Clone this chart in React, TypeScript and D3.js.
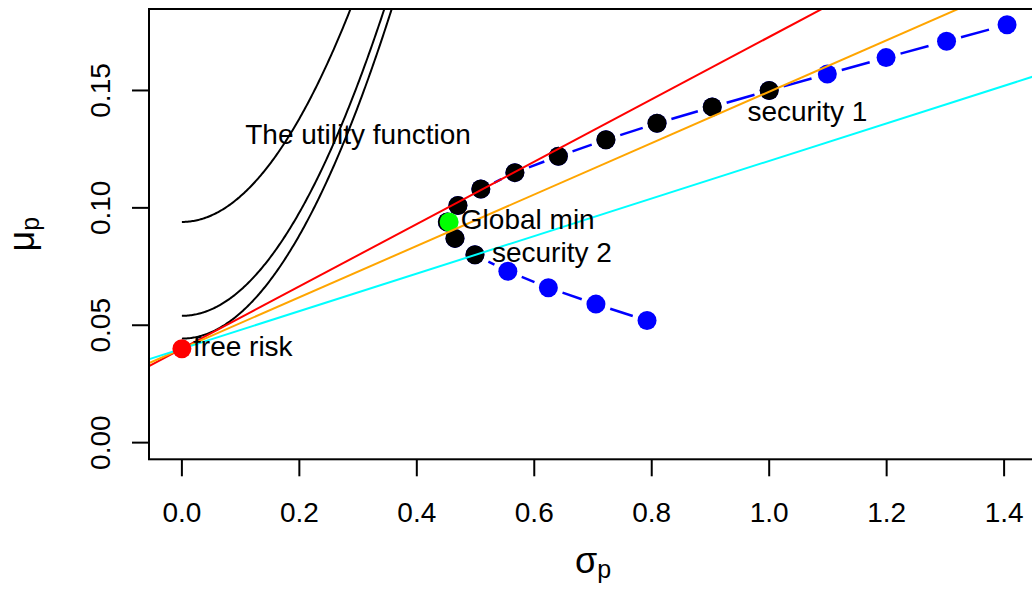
import React from 'react'
import * as d3 from 'd3'

const W = 1032
const H = 590

// portfolios of security 1 and security 2, weight of security 1 from -0.4 to 1.4
const portfolioSd = [0.792, 0.705, 0.624, 0.555, 0.499, 0.465, 0.452, 0.470, 0.509, 0.567,
  0.641, 0.722, 0.809, 0.903, 1.0, 1.099, 1.199, 1.302, 1.405]
const portfolioMean = [0.052, 0.059, 0.066, 0.073, 0.080, 0.087, 0.094, 0.101, 0.108, 0.115,
  0.122, 0.129, 0.136, 0.143, 0.150, 0.157, 0.164, 0.171, 0.178]
// indexes of the long-only portfolios (drawn black)
const longOnly = [4, 5, 6, 7, 8, 9, 10, 11, 12, 13, 14]

const riskFreePoint = [0, 0.04]
const globalMinPoint = [0.455, 0.094]

// capital allocation lines through the risk free rate
const lineSlopes = [0.1328, 0.1095, 0.08]
const lineColors = ['#FF0000', '#FFA500', '#00FFFF']

// indifference curves  mu = level + a * sigma^2
const utilityLevels = [0.094, 0.054, 0.0443]
const utilityA = 1.1

const labelTexts = ['The utility function', 'free risk', 'Global min', 'security 2', 'security 1']
const labelX = [0.3, 0.019, 0.475, 0.528, 1.065]
const labelY = [0.13, 0.04, 0.094, 0.08, 0.14]
const labelAnchor = ['middle', 'start', 'start', 'start', 'middle']

const xTicks = [0, 0.2, 0.4, 0.6, 0.8, 1.0, 1.2, 1.4]
const yTicks = [0, 0.05, 0.1, 0.15]

const FONT = 'Liberation Sans, Arial, Helvetica, sans-serif'

const App = () => {
  const left = 149, right = 1037, top = 9, bottom = 459.3

  const x = d3.scaleLinear().domain([-0.056, 1.456]).range([left, right])
  const y = d3.scaleLinear().domain([-0.0071, 0.1847]).range([bottom, top])

  const sigmas = d3.range(0, 0.5, 0.002)

  // type = "b": segments shortened at both ends, dash restarts each time
  const gap = 15
  const segments = portfolioSd.slice(1).map((_, i) => {
    const x1 = x(portfolioSd[i]), y1 = y(portfolioMean[i])
    const x2 = x(portfolioSd[i + 1]), y2 = y(portfolioMean[i + 1])
    const len = Math.hypot(x2 - x1, y2 - y1)
    if (len <= 2 * gap) return null
    const ux = (x2 - x1) / len, uy = (y2 - y1) / len
    return [x1 + ux * gap, y1 + uy * gap, x2 - ux * gap, y2 - uy * gap]
  })

  const r = 9.5

  return (
    <svg width={W} height={H} style={{ position: 'absolute', left: 0, top: 0, background: '#fff' }}
      fontFamily={FONT}>
      <defs>
        <clipPath id="plotArea">
          <rect x={left} y={top} width={right - left} height={bottom - top} />
        </clipPath>
      </defs>

      <g clipPath="url(#plotArea)">
        {utilityLevels.map((lv, i) => (
          <path key={'u' + i} fill="none" stroke="#000" strokeWidth={2}
            d={d3.line<number>().x(s => x(s)).y(s => y(lv + utilityA * s * s))(sigmas) || ''} />
        ))}

        {segments.map((sg, i) => sg && (
          <line key={'s' + i} x1={sg[0]} y1={sg[1]} x2={sg[2]} y2={sg[3]}
            stroke="#0000FF" strokeWidth={2.5} strokeDasharray="29 31" />
        ))}

        {portfolioSd.map((s, i) => (
          <circle key={'b' + i} cx={x(s)} cy={y(portfolioMean[i])} r={r} fill="#0000FF" />
        ))}
        {longOnly.map(i => (
          <circle key={'k' + i} cx={x(portfolioSd[i])} cy={y(portfolioMean[i])} r={r} fill="#000" />
        ))}
        <circle cx={x(globalMinPoint[0])} cy={y(globalMinPoint[1])} r={r} fill="#00FF00" />

        {lineSlopes.map((b, i) => (
          <line key={'l' + i} x1={x(-0.1)} y1={y(riskFreePoint[1] - 0.1 * b)}
            x2={x(1.6)} y2={y(riskFreePoint[1] + 1.6 * b)}
            stroke={lineColors[i]} strokeWidth={2} />
        ))}

        <circle cx={x(riskFreePoint[0])} cy={y(riskFreePoint[1])} r={r} fill="#FF0000" />
      </g>

      {labelTexts.map((t, i) => (
        <text key={'t' + i} x={x(labelX[i])} y={y(labelY[i])} dy={7} fontSize={28}
          textAnchor={labelAnchor[i]} fill="#000">{t}</text>
      ))}

      <rect x={left} y={top} width={right - left} height={bottom - top}
        fill="none" stroke="#000" strokeWidth={2} />

      {xTicks.map(t => (
        <g key={'xt' + t}>
          <line x1={x(t)} x2={x(t)} y1={bottom} y2={bottom + 17} stroke="#000" strokeWidth={2} />
          <text x={x(t)} y={522} fontSize={28} textAnchor="middle">{d3.format('.1f')(t)}</text>
        </g>
      ))}
      {yTicks.map(t => (
        <g key={'yt' + t}>
          <line x1={left} x2={left - 17} y1={y(t)} y2={y(t)} stroke="#000" strokeWidth={2} />
          <text transform={`translate(110,${y(t)}) rotate(-90)`} fontSize={28}
            textAnchor="middle">{d3.format('.2f')(t)}</text>
        </g>
      ))}

      <text x={(left + right) / 2} y={573} fontSize={36} textAnchor="middle">
        σ<tspan fontSize={25} dy={5}>p</tspan>
      </text>
      <text transform={`translate(34,${(top + bottom) / 2}) rotate(-90)`} fontSize={36}
        textAnchor="middle">
        μ<tspan fontSize={25} dy={5}>p</tspan>
      </text>
    </svg>
  )
}

export default App
